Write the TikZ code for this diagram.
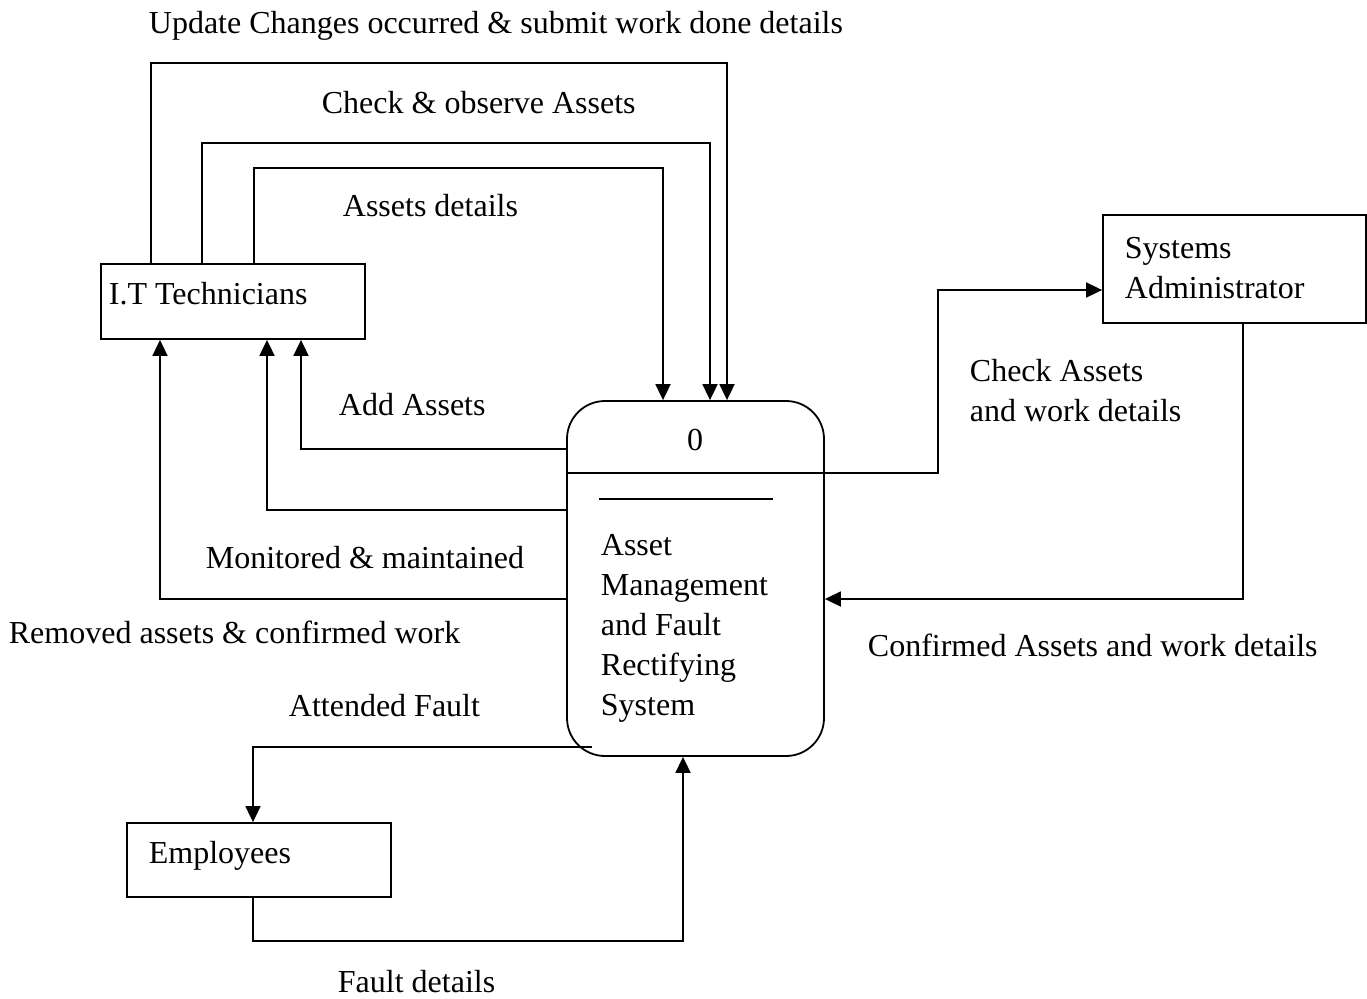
\documentclass[tikz,border=0pt]{standalone}
\usepackage{fontspec}
\setmainfont{Liberation Serif}
\usetikzlibrary{arrows.meta}
\begin{document}
\begin{tikzpicture}[x=1pt,y=-1pt,
  font=\fontsize{32}{40}\selectfont,
  line width=1.8pt,
  box/.style={draw,rectangle,inner sep=0pt},
  flow/.style={draw,-{Triangle[length=16pt,width=15pt]}},
  lbl/.style={inner sep=0pt,anchor=mid west},
  txt/.style={inner sep=0pt,anchor=north west,align=left}]
\useasboundingbox (0,0) rectangle (1367,998);

% external entities
\node[box,minimum width=264pt,minimum height=75pt] (it) at (233,301.5) {};
\node[lbl] (itname) at (108,302) {I.T Technicians};
\node[box,minimum width=263pt,minimum height=108pt] (sa) at (1234.5,269) {};
\node[txt] (saname) at (1124,236) {Systems\\Administrator};
\node[box,minimum width=264pt,minimum height=74pt] (emp) at (259,860) {};
\node[lbl] (empname) at (148,861) {Employees};

% process
\node[draw,rectangle,rounded corners=38pt,minimum width=257pt,minimum height=355pt,inner sep=0pt] (proc) at (695.5,578.5) {};
\node[inner sep=0pt,anchor=mid] (pnum) at (695,448) {0};
\draw (proc.west |- 0,473) -- (proc.east |- 0,473);
\draw (599,499) -- (773,499);
\node[txt] (pname) at (600,533) {Asset\\Management\\and Fault\\Rectifying\\System};

% flows from the technicians into the process
\draw[flow] ([xshift=51pt]it.north west) |- (727,63) -- (727,0 |- proc.north);
\draw[flow] ([xshift=102pt]it.north west) |- (710,143) -- (710,0 |- proc.north);
\draw[flow] ([xshift=154pt]it.north west) |- (663,168) -- (663,0 |- proc.north);
\node[lbl] (l1) at (148,31) {Update Changes occurred \& submit work done details};
\node[lbl] (l2) at (321,111) {Check \& observe Assets};
\node[lbl] (l3) at (342,214) {Assets details};

% flows from the process back to the technicians
\draw[flow] (proc.west |- 0,449) -| (301,0 |- it.south);
\draw[flow] (proc.west |- 0,510) -| (267,0 |- it.south);
\draw[flow] (proc.west |- 0,599) -| (160,0 |- it.south);
\node[lbl] (l4) at (338,413) {Add Assets};
\node[lbl] (l5) at (205,566) {Monitored \& maintained};
\node[lbl] (l6) at (8,641) {Removed assets \& confirmed work};

% systems administrator
\draw[flow] (proc.east |- 0,473) -| (938,290) -- (sa.west |- 0,290);
\node[txt] (l7) at (969,358) {Check Assets\\and work details};
\draw[flow] (1243,0 |- sa.south) |- (proc.east |- 0,599);
\node[lbl] (l8) at (867,654) {Confirmed Assets and work details};

% employees
\coordinate (pout) at (592,747);
\draw[flow] (pout) -| (253,0 |- emp.north);
\node[lbl] (l9) at (288,714) {Attended Fault};
\draw[flow] (253,0 |- emp.south) |- (683,941) -- (683,0 |- proc.south);
\node[lbl] (l10) at (337,990) {Fault details};
\end{tikzpicture}
\end{document}
